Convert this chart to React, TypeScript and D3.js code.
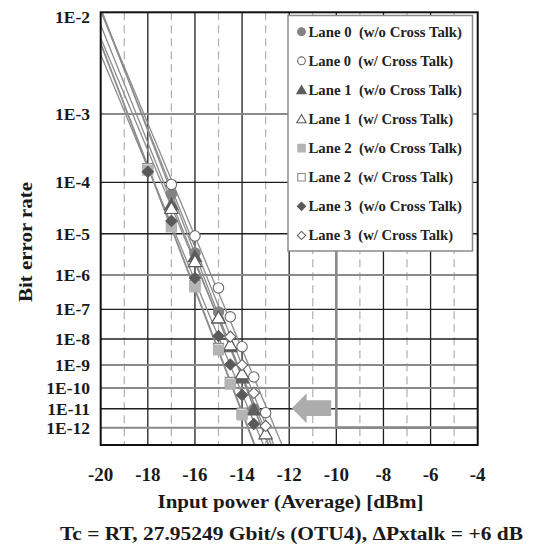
import React from 'react';
import * as d3 from 'd3';

// ---------- data ----------
const xTickValues = [-20, -18, -16, -14, -12, -10, -8, -6, -4];
const yTickExponents = [2, 3, 4, 5, 6, 7, 8, 9, 10, 11, 12];
const grayGridExponents = [3, 6, 9, 10, 12];

const lane0WoX = [-17, -16, -15, -14, -13.5];
const lane0WoBer = [6.2e-5, 3.6e-6, 8.3e-8, 3.1e-10, 9.7e-12];
const lane0WX = [-17, -16, -15, -14.5, -14, -13.5, -13];
const lane0WBer = [9.2e-5, 8.9e-6, 4.4e-7, 5.8e-8, 5.2e-9, 3.1e-10, 6.3e-12];
const lane1WoX = [-17, -16, -15, -14.5, -14, -13.5];
const lane1WoBer = [3.9e-5, 2.9e-6, 5.3e-8, 5.1e-9, 2.8e-10, 8.6e-12];
const lane1WX = [-17, -16, -15, -14.5, -14, -13];
const lane1WBer = [3.3e-5, 2.2e-6, 5.3e-8, 6.0e-9, 4.2e-10, 4.4e-13];
const lane2WoX = [-18, -17, -16, -15, -14.5, -14];
const lane2WoBer = [1.6e-4, 1.4e-5, 4.7e-7, 3.9e-9, 1.5e-10, 4.8e-12];
const lane2WX = [-18, -17, -16, -15, -14.5, -14];
const lane2WBer = [1.7e-4, 1.5e-5, 5.2e-7, 4.5e-9, 1.8e-10, 6.0e-12];
const lane3WoX = [-18, -17, -16, -15, -14.5, -14, -13.5];
const lane3WoBer = [1.5e-4, 1.87e-5, 8.3e-7, 1.28e-8, 1.04e-9, 4.7e-11, 1.6e-12];
const lane3WX = [-14.5, -14, -13.5, -13];
const lane3WBer = [1.21e-8, 9.9e-10, 5.9e-11, 1.24e-12];

const legendLabels = [
  'Lane 0  (w/o Cross Talk)',
  'Lane 0  (w/ Cross Talk)',
  'Lane 1  (w/o Cross Talk)',
  'Lane 1  (w/ Cross Talk)',
  'Lane 2  (w/o Cross Talk)',
  'Lane 2  (w/ Cross Talk)',
  'Lane 3  (w/o Cross Talk)',
  'Lane 3  (w/ Cross Talk)',
];

// ---------- styles ----------
type Shape = 'circle' | 'triangle' | 'square' | 'diamond';
const styles: { shape: Shape; fill: string; stroke: string }[] = [
  { shape: 'circle', fill: '#838383', stroke: '#838383' },
  { shape: 'circle', fill: '#ffffff', stroke: '#6a6a6a' },
  { shape: 'triangle', fill: '#5e5e5e', stroke: '#5e5e5e' },
  { shape: 'triangle', fill: '#ffffff', stroke: '#555555' },
  { shape: 'square', fill: '#b4b4b4', stroke: '#b4b4b4' },
  { shape: 'square', fill: '#ffffff', stroke: '#8a8a8a' },
  { shape: 'diamond', fill: '#5a5a5a', stroke: '#5a5a5a' },
  { shape: 'diamond', fill: '#ffffff', stroke: '#666666' },
];
const seriesX = [lane0WoX, lane0WX, lane1WoX, lane1WX, lane2WoX, lane2WX, lane3WoX, lane3WX];
const seriesBer = [lane0WoBer, lane0WBer, lane1WoBer, lane1WBer, lane2WoBer, lane2WBer, lane3WoBer, lane3WBer];
const drawOrder = [5, 0, 1, 2, 3, 4, 6, 7];

const W = 536;
const H = 547;
const left = 100.7;
const right = 477.7;
const top = 12.3;
const bottom = 445;
const font = '"Liberation Serif", "Times New Roman", serif';

const tf = (ber: number) => Math.log10(-Math.log10(ber) - 0.4);
const xScale = d3.scaleLinear().domain([-20, -4]).range([left, right]);
const yScale = d3.scaleLinear().domain([tf(1e-2), tf(1e-13)]).range([top, bottom]);
const y = (ber: number) => yScale(tf(ber));

function symbolPath(shape: Shape, size: number) {
  const type =
    shape === 'circle' ? d3.symbolCircle :
    shape === 'triangle' ? d3.symbolTriangle :
    d3.symbolSquare;
  return d3.symbol().type(type).size(size)() as string;
}
const plotSizes: Record<Shape, number> = { circle: 85, triangle: 78, square: 100, diamond: 62 };
const legendSizes: Record<Shape, number> = { circle: 48, triangle: 38, square: 56, diamond: 34 };

function Marker({ shape, fill, stroke, cx, cy, sizes }: any) {
  const d = symbolPath(shape, sizes[shape]);
  const rot = shape === 'diamond' ? ' rotate(45)' : '';
  const dy = shape === 'triangle' ? 1 : 0;
  return (
    <path d={d} transform={`translate(${cx},${cy + dy})${rot}`} fill={fill} stroke={stroke} strokeWidth={1.1} />
  );
}

function fit(xs: number[], bers: number[]) {
  const ts = bers.map(tf);
  const mx = d3.mean(xs)!;
  const mt = d3.mean(ts)!;
  let sxy = 0, sxx = 0;
  xs.forEach((x, i) => { sxy += (x - mx) * (ts[i] - mt); sxx += (x - mx) * (x - mx); });
  const b = sxy / sxx;
  const a = mt - b * mx;
  return (x: number) => a + b * x;
}

export default function App() {
  const minorX = d3.range(-19, -4, 1);
  const legendX = 288;
  const legendY = 15.5;
  const legendW = 184.5;
  const legendH = 235.5;
  const legendStep = 29.1;
  const legendFirst = 31.7;

  const arrowTip = xScale(-11.89);
  const arrowHead = xScale(-11.26);
  const arrowEnd = xScale(-10.22);
  const arrowY = y(1e-11) - 0.6;

  return (
    <svg width={W} height={H} style={{ position: 'absolute', left: 0, top: 0, background: '#fff' }} fontFamily={font}>
      <defs>
        <clipPath id="plotClip">
          <rect x={left} y={top} width={right - left} height={bottom - top} />
        </clipPath>
      </defs>
      <rect x={0} y={0} width={W} height={H} fill="#fff" />
      {/* vertical grid */}
      {minorX.map((v) => (
        v % 2 === 0 ? (
          <line key={'vx' + v} x1={xScale(v)} x2={xScale(v)} y1={top} y2={bottom} stroke="#1e1e1e" strokeWidth={1.3} />
        ) : (
          <line key={'vx' + v} x1={xScale(v)} x2={xScale(v)} y1={top} y2={bottom} stroke="#b0b0b0" strokeWidth={1.2} strokeDasharray="8,5" />
        )
      ))}
      {/* horizontal grid */}
      {yTickExponents.slice(1).map((e) => {
        const yy = y(Math.pow(10, -e));
        const gray = grayGridExponents.includes(e);
        return (
          <line key={'hy' + e} x1={left} x2={right} y1={yy} y2={yy} stroke={gray ? '#8a8a8a' : '#1e1e1e'} strokeWidth={gray ? 2 : 1.3} />
        );
      })}
      {/* L-shaped gray reference line */}
      <path
        d={`M${xScale(-10)},${legendY + legendH} L${xScale(-10)},${y(1e-12)} L${right},${y(1e-12)}`}
        fill="none" stroke="#8a8a8a" strokeWidth={2.6}
      />
      {/* arrow */}
      <path
        d={`M${arrowTip},${arrowY} L${arrowHead},${arrowY - 15} L${arrowHead},${arrowY - 7.8} L${arrowEnd},${arrowY - 7.8} L${arrowEnd},${arrowY + 7.8} L${arrowHead},${arrowY + 7.8} L${arrowHead},${arrowY + 15} Z`}
        fill="#acacac"
      />
      {/* fit lines */}
      <g clipPath="url(#plotClip)">
        {seriesX.map((xs, i) => {
          const f = fit(xs, seriesBer[i]);
          return (
            <line key={'fit' + i} x1={xScale(-20)} x2={xScale(-4)} y1={yScale(f(-20))} y2={yScale(f(-4))} stroke="#8c8c8c" strokeWidth={1.3} />
          );
        })}
      </g>
      {/* markers */}
      {drawOrder.map((i) => (
        <g key={'s' + i}>
          {seriesX[i].map((xv, j) => (
            <Marker key={j} {...styles[i]} cx={xScale(xv)} cy={y(seriesBer[i][j])} sizes={plotSizes} />
          ))}
        </g>
      ))}
      {/* frame */}
      <rect x={left} y={top} width={right - left} height={bottom - top} fill="none" stroke="#111" strokeWidth={2} />
      {/* legend */}
      <rect x={legendX} y={legendY} width={legendW} height={legendH} fill="#fff" stroke="#8a8a8a" strokeWidth={1.5} />
      {legendLabels.map((lab, i) => {
        const cy = legendFirst + i * legendStep;
        const wide = lab.includes('w/o');
        return (
          <g key={'lg' + i}>
            <Marker {...styles[i]} cx={301.5} cy={cy} sizes={legendSizes} />
            <text x={308.5} y={cy} dominantBaseline="central" fontSize={14.2} fontWeight="bold" fill="#222"
              textLength={wide ? 153.5 : 144.5} lengthAdjust="spacingAndGlyphs" style={{ whiteSpace: 'pre' }}>{lab}</text>
          </g>
        );
      })}
      {/* y tick labels */}
      {yTickExponents.map((e) => (
        <text key={'yl' + e} x={90} y={Math.max(y(Math.pow(10, -e)), 16.5)} textAnchor="end" dominantBaseline="central" fontSize={17.5} fontWeight="bold" fill="#1a1a1a">{`1E-${e}`}</text>
      ))}
      {/* x tick labels */}
      {xTickValues.map((v) => (
        <text key={'xl' + v} x={xScale(v)} y={481} textAnchor="middle" fontSize={19} fontWeight="bold" fill="#1a1a1a">{v}</text>
      ))}
      <text x={290.5} y={507.5} textAnchor="middle" fontSize={18.5} fontWeight="bold" fill="#1a1a1a"
        textLength={266} lengthAdjust="spacingAndGlyphs">Input power (Average) [dBm]</text>
      <text x={291.5} y={539.5} textAnchor="middle" fontSize={19} fontWeight="bold" fill="#1a1a1a"
        textLength={463} lengthAdjust="spacingAndGlyphs">Tc = RT, 27.95249 Gbit/s (OTU4), ΔPxtalk = +6 dB</text>
      <text transform={`translate(31.5,242) rotate(-90)`} textAnchor="middle" fontSize={18.5} fontWeight="bold" fill="#1a1a1a"
        textLength={120} lengthAdjust="spacingAndGlyphs">Bit error rate</text>
    </svg>
  );
}
